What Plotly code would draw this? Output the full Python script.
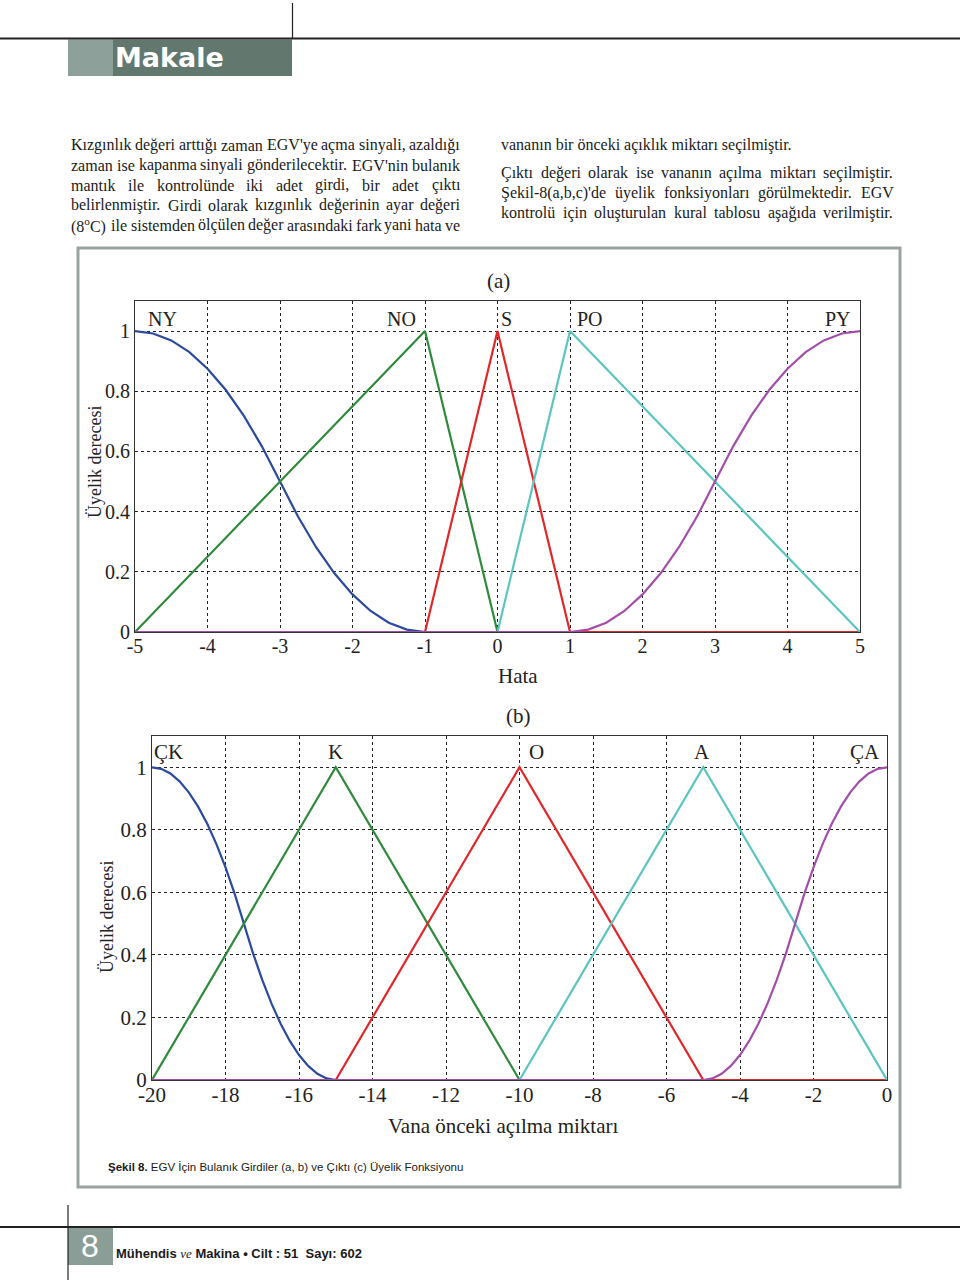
import plotly.graph_objects as go

W, H = 960, 1280

# ---------------- data: chart (a) "Hata" ----------------
a_xticks = [-5, -4, -3, -2, -1, 0, 1, 2, 3, 4, 5]
a_xticktext = ["-5", "-4", "-3", "-2", "-1", "0", "1", "2", "3", "4", "5"]
y_ticks = [0, 0.2, 0.4, 0.6, 0.8, 1]
y_ticktext = ["0", "0.2", "0.4", "0.6", "0.8", "1"]

a_ny_x = [-5, -4.75, -4.5, -4.25, -4, -3.75, -3.5, -3.25, -3, -2.75, -2.5, -2.25, -2, -1.75, -1.5, -1.25, -1, 5]
a_ny_y = [1, 0.992, 0.969, 0.930, 0.875, 0.805, 0.719, 0.617, 0.5, 0.383, 0.281, 0.195, 0.125, 0.070, 0.031, 0.008, 0, 0]
a_no_x = [-5, -1, 0, 5]
a_no_y = [0, 1, 0, 0]
a_s_x = [-5, -1, 0, 1, 5]
a_s_y = [0, 0, 1, 0, 0]
a_po_x = [-5, 0, 1, 5]
a_po_y = [0, 0, 1, 0]
a_py_x = [-5, 1, 1.25, 1.5, 1.75, 2, 2.25, 2.5, 2.75, 3, 3.25, 3.5, 3.75, 4, 4.25, 4.5, 4.75, 5]
a_py_y = [0, 0, 0.008, 0.031, 0.070, 0.125, 0.195, 0.281, 0.383, 0.5, 0.617, 0.719, 0.805, 0.875, 0.930, 0.969, 0.992, 1]
a_labels = ["NY", "NO", "S", "PO", "PY"]
a_label_x = [-4.62, -1.32, 0.13, 1.28, 4.7]

# ---------------- data: chart (b) "Vana önceki açılma miktarı" ----------------
b_xticks = [-20, -18, -16, -14, -12, -10, -8, -6, -4, -2, 0]
b_xticktext = ["-20", "-18", "-16", "-14", "-12", "-10", "-8", "-6", "-4", "-2", "0"]
b_ck_x = [-20, -19.75, -19.5, -19.25, -19, -18.75, -18.5, -18.25, -18, -17.75, -17.5,
          -17.25, -17, -16.75, -16.5, -16.25, -16, -15.75, -15.5, -15.25, -15, 0]
b_ck_y = [1, 0.995, 0.98, 0.955, 0.92, 0.875, 0.82, 0.755, 0.68, 0.595, 0.5,
          0.405, 0.32, 0.245, 0.18, 0.125, 0.08, 0.045, 0.02, 0.005, 0, 0]
b_k_x = [-20, -15, -10, 0]
b_k_y = [0, 1, 0, 0]
b_o_x = [-20, -15, -10, -5, 0]
b_o_y = [0, 0, 1, 0, 0]
b_a_x = [-20, -10, -5, 0]
b_a_y = [0, 0, 1, 0]
b_ca_x = [-20, -5, -4.75, -4.5, -4.25, -4, -3.75, -3.5, -3.25, -3, -2.75, -2.5,
          -2.25, -2, -1.75, -1.5, -1.25, -1, -0.75, -0.5, -0.25, 0]
b_ca_y = [0, 0, 0.005, 0.02, 0.045, 0.08, 0.125, 0.18, 0.245, 0.32, 0.405, 0.5,
          0.595, 0.68, 0.755, 0.82, 0.875, 0.92, 0.955, 0.98, 0.995, 1]
b_labels = ["ÇK", "K", "O", "A", "ÇA"]
b_label_x = [-19.55, -15.0, -9.55, -5.03, -0.6]

COLORS = ["#2b4a9e", "#2f8a3c", "#e2272b", "#5cc5bd", "#a24fa9"]

# ---------------- text ----------------
left_lines = [
    "Kızgınlık değeri arttığı zaman EGV'ye açma sinyali, azaldığı",
    "zaman ise kapanma sinyali gönderilecektir.  EGV'nin bulanık",
    "mantık ile kontrolünde iki adet girdi, bir adet çıktı",
    "belirlenmiştir. Girdi olarak kızgınlık değerinin ayar değeri",
    "(8<sup>o</sup>C) ile sistemden ölçülen değer arasındaki fark yani hata ve",
]
right_lines = [
    "vananın bir önceki açıklık miktarı seçilmiştir.",
    "Çıktı değeri olarak ise vananın açılma miktarı seçilmiştir.",
    "Şekil-8(a,b,c)'de üyelik fonksiyonları görülmektedir. EGV",
    "kontrolü için oluşturulan kural tablosu aşağıda verilmiştir.",
]

SERIF = "Liberation Serif, Times New Roman, serif"

# Times-Roman advance widths (per 1000 em)
TW = {' ': 250, 'a': 444, 'b': 500, 'c': 444, 'd': 500, 'e': 444, 'f': 333, 'g': 500, 'h': 500, 'i': 278,
      'j': 278, 'k': 500, 'l': 278, 'm': 778, 'n': 500, 'o': 500, 'p': 500, 'q': 500, 'r': 333, 's': 389,
      't': 278, 'u': 500, 'v': 500, 'w': 722, 'x': 500, 'y': 500, 'z': 444, 'A': 722, 'B': 667, 'C': 667,
      'D': 722, 'E': 611, 'F': 556, 'G': 722, 'H': 722, 'I': 333, 'J': 389, 'K': 722, 'L': 611, 'M': 889,
      'N': 722, 'O': 722, 'P': 556, 'Q': 722, 'R': 667, 'S': 556, 'T': 611, 'U': 722, 'V': 722, 'W': 944,
      'X': 722, 'Y': 722, 'Z': 611, ',': 250, '.': 250, "'": 180, '(': 333, ')': 333, '-': 333, ':': 278,
      'ı': 278, 'ğ': 500, 'ş': 389, 'ç': 444, 'ö': 500, 'ü': 500, 'Ç': 667, 'Ş': 556, 'Ü': 722, 'İ': 333}


def tw(s, size):
    s = s.replace("<sup>", "").replace("</sup>", "")
    return sum(TW.get(c, 500) for c in s) * size / 1000.0


def px(x):
    return x / W


def py(y):
    return 1 - y / H


annotations = []


def text_line(line, x0, x1, yc, size, justify=True):
    words = line.split()
    if not justify or len(words) < 2:
        annotations.append(dict(x=px(x0), y=py(yc), xref="paper", yref="paper", text=line, showarrow=False,
                                xanchor="left", yanchor="middle", borderpad=0,
                                font=dict(family=SERIF, size=size, color="#1a1a1a")))
        return
    total = sum(tw(w, size) for w in words)
    gap = max((x1 - x0 - total) / (len(words) - 1), size * 0.12)
    x = x0
    for w in words:
        annotations.append(dict(x=px(x), y=py(yc), xref="paper", yref="paper", text=w, showarrow=False,
                                xanchor="left", yanchor="middle", borderpad=0,
                                font=dict(family=SERIF, size=size, color="#1a1a1a")))
        x += tw(w, size) + gap


left_y = [145, 165, 185, 205, 225]
for ln, yy in zip(left_lines, left_y):
    text_line(ln, 70, 459, yy, 16)
right_y = [145, 173, 193, 213]
for i, (ln, yy) in enumerate(zip(right_lines, right_y)):
    text_line(ln, 500, 893, yy, 16, justify=(i != 0))

fig = go.Figure()

a_series = [(a_ny_x, a_ny_y), (a_no_x, a_no_y), (a_s_x, a_s_y), (a_po_x, a_po_y), (a_py_x, a_py_y)]
for (xs, ys), c in zip(a_series, COLORS):
    fig.add_trace(go.Scatter(x=xs, y=ys, mode="lines", line=dict(color=c, width=2.2),
                             xaxis="x", yaxis="y", hoverinfo="skip"))
b_series = [(b_ck_x, b_ck_y), (b_k_x, b_k_y), (b_o_x, b_o_y), (b_a_x, b_a_y), (b_ca_x, b_ca_y)]
for (xs, ys), c in zip(b_series, COLORS):
    fig.add_trace(go.Scatter(x=xs, y=ys, mode="lines", line=dict(color=c, width=2.2),
                             xaxis="x2", yaxis="y2", hoverinfo="skip"))

for lab, lx in zip(a_labels, a_label_x):
    annotations.append(dict(x=lx, y=1.04, xref="x", yref="y", text=lab, showarrow=False, xanchor="center",
                            yanchor="middle", font=dict(family=SERIF, size=20, color="#222")))
for lab, lx in zip(b_labels, b_label_x):
    annotations.append(dict(x=lx, y=1.05, xref="x2", yref="y2", text=lab, showarrow=False, xanchor="center",
                            yanchor="middle", font=dict(family=SERIF, size=21, color="#222")))


def ann(x, y, text, size, family=SERIF, color="#222", xanchor="center", angle=0):
    annotations.append(dict(x=px(x), y=py(y), xref="paper", yref="paper", text=text, showarrow=False,
                            xanchor=xanchor, yanchor="middle", textangle=angle, borderpad=0,
                            font=dict(family=family, size=size, color=color)))


ann(498, 281, "(a)", 21)
ann(518, 676, "Hata", 21)
ann(95, 462, "Üyelik derecesi", 18, angle=-90)
ann(518, 716, "(b)", 21)
ann(503, 1126, "Vana önceki açılma miktarı", 21)
ann(107, 917, "Üyelik derecesi", 18, angle=-90)

# header / footer / caption
ann(114, 58, "<b>Makale</b>", 27, family="DejaVu Sans, Arial, sans-serif", color="white", xanchor="left")
ann(107, 1167, "<b>Şekil 8.</b> EGV İçin Bulanık Girdiler (a, b) ve Çıktı (c) Üyelik Fonksiyonu", 11.5,
    family="Liberation Sans, Arial, sans-serif", color="#1a1a1a", xanchor="left")
ann(90, 1246, "8", 32, family="Liberation Sans, Arial, sans-serif", color="white")
ann(115, 1253, "<b>Mühendis</b> <span style='font-family:Liberation Serif'><i>ve</i></span> <b>Makina • Cilt : 51  Sayı: 602</b>",
    13, family="Liberation Sans, Arial, sans-serif", color="#1a1a1a", xanchor="left")

shapes = []


def rect(x0, y0, x1, y1, fill=None, line=None, lw=0):
    shapes.append(dict(type="rect", xref="paper", yref="paper", x0=px(x0), x1=px(x1), y0=py(y1), y1=py(y0),
                       fillcolor=fill if fill else "rgba(0,0,0,0)",
                       line=dict(color=line if line else "rgba(0,0,0,0)", width=lw), layer="below"))


def seg(x0, y0, x1, y1, color="#222", lw=1.5):
    shapes.append(dict(type="line", xref="paper", yref="paper", x0=px(x0), x1=px(x1), y0=py(y0), y1=py(y1),
                       line=dict(color=color, width=lw)))


seg(0, 38.5, 960, 38.5, lw=1.8)
seg(292.5, 3, 292.5, 38.5, lw=1.2)
rect(68, 39.5, 113, 76, fill="#8da19a")
rect(113, 39.5, 292, 76, fill="#62786f")
rect(78, 248, 900, 1187, line="#9aa49f", lw=3)
seg(0, 1227, 960, 1227, lw=1.8)
seg(68, 1205, 68, 1280, lw=1.2)
rect(68, 1228, 113, 1265, fill="#8a9e97")

axis_common = dict(showgrid=True, gridcolor="#222", griddash="dot", gridwidth=1, showline=True, mirror=True,
                   linecolor="#333", linewidth=1, zeroline=False, ticks="", color="#222", automargin=False)

fig.update_layout(
    template="none",
    width=W, height=H, margin=dict(l=0, r=0, t=0, b=0, pad=0, autoexpand=False),
    paper_bgcolor="white", plot_bgcolor="white",
    showlegend=False,
    xaxis=dict(domain=[135 / W, 860 / W], range=[-5, 5], tickvals=a_xticks, ticktext=a_xticktext,
               tickfont=dict(family=SERIF, size=20, color="#222"), anchor="y", ticklabelstandoff=-4,
               **axis_common),
    yaxis=dict(domain=[1 - 632 / H, 1 - 301 / H], range=[0, 1.1], tickvals=y_ticks, ticktext=y_ticktext,
               tickfont=dict(family=SERIF, size=20, color="#222"), anchor="x", **axis_common),
    xaxis2=dict(domain=[152 / W, 887 / W], range=[-20, 0], tickvals=b_xticks, ticktext=b_xticktext,
                tickfont=dict(family=SERIF, size=21, color="#222"), anchor="y2", ticklabelstandoff=-4,
                **axis_common),
    yaxis2=dict(domain=[1 - 1080 / H, 1 - 736 / H], range=[0, 1.1], tickvals=y_ticks, ticktext=y_ticktext,
                tickfont=dict(family=SERIF, size=21, color="#222"), anchor="x2", **axis_common),
    annotations=annotations, shapes=shapes,
)

fig.write_html("out.html")
